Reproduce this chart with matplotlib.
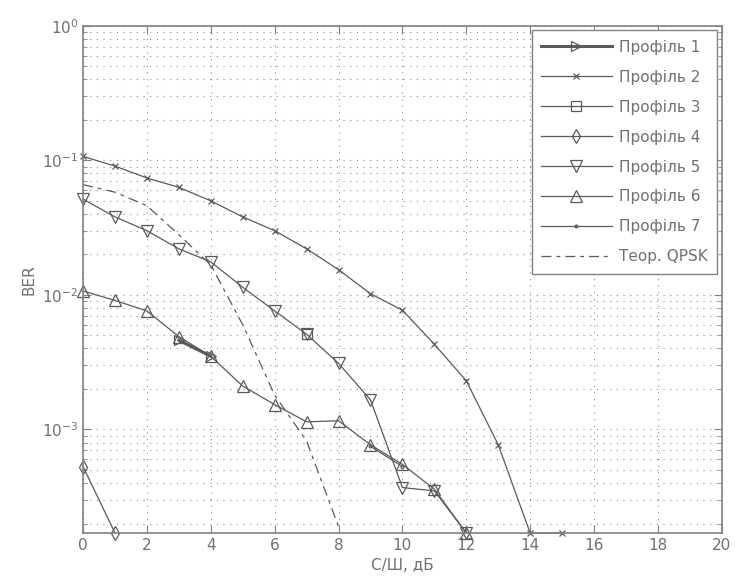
import numpy as np
import matplotlib
matplotlib.use('Agg')
import matplotlib.pyplot as plt
from matplotlib.ticker import LogLocator, NullFormatter

plt.rcParams['font.family'] = ['DejaVu Sans']

# BER floor of the simulation (points drawn on the bottom axis)
FLOOR = 1.7e-4

# Values
snr_p1 = [3, 4]
ber_p1 = [0.0046, 0.0035]

snr_p2 = list(range(0, 16))
ber_p2 = [0.107, 0.0906, 0.074, 0.063, 0.050, 0.038, 0.030, 0.022,
          0.0154, 0.0102, 0.0077, 0.0043, 0.0023, 7.7e-4, FLOOR, FLOOR]

snr_p3 = [7]
ber_p3 = [0.0051]

snr_p4 = [0, 1]
ber_p4 = [5.3e-4, FLOOR]

snr_p5 = list(range(0, 13))
ber_p5 = [0.0515, 0.038, 0.030, 0.022, 0.0176, 0.0114, 0.0076, 0.0051,
          0.0031, 0.00166, 3.7e-4, 3.5e-4, FLOOR]

snr_p6 = list(range(0, 13))
ber_p6 = [0.0107, 0.0091, 0.0076, 0.0049, 0.0035, 0.0021, 0.00153, 0.00114,
          0.00116, 7.7e-4, 5.5e-4, 3.6e-4, FLOOR]

snr_p7 = [9, 10]
ber_p7 = [7.5e-4, 5.3e-4]

snr_qpsk = list(range(0, 9))
ber_qpsk = [0.066, 0.058, 0.046, 0.028, 0.0167, 0.006, 0.0018, 8.2e-4, 1.9e-4]

labels = ['Профіль 1', 'Профіль 2', 'Профіль 3', 'Профіль 4',
          'Профіль 5', 'Профіль 6', 'Профіль 7', 'Теор. QPSK']
xticks = list(range(0, 21, 2))

line_c = '#5a5a5a'
text_c = '#707070'
axis_c = '#808080'

fig = plt.figure(figsize=(7.35, 5.86), dpi=100)
ax = fig.add_axes([0.113, 0.0904, 0.869, 0.8656])

common = dict(color=line_c, markerfacecolor='none', markeredgecolor=line_c,
              markeredgewidth=0.9, clip_on=False)
ax.plot(snr_p1, ber_p1, '-', marker='>', lw=2.2, ms=7, label=labels[0], **common)
ax.plot(snr_p2, ber_p2, '-', marker='x', lw=0.9, ms=5, label=labels[1], **common)
ax.plot(snr_p3, ber_p3, '-', marker='s', lw=0.9, ms=7, label=labels[2], **common)
ax.plot(snr_p4, ber_p4, '-', marker='d', lw=0.9, ms=7, label=labels[3], **common)
ax.plot(snr_p5, ber_p5, '-', marker='v', lw=0.9, ms=8, label=labels[4], **common)
ax.plot(snr_p6, ber_p6, '-', marker='^', lw=0.9, ms=8, label=labels[5], **common)
ax.plot(snr_p7, ber_p7, '-', marker='.', lw=0.9, ms=4, label=labels[6], **common)
ax.plot(snr_qpsk, ber_qpsk, '-', lw=0.9, color=line_c, dashes=(8, 4, 3, 4),
        label=labels[7], clip_on=False)

ax.set_yscale('log')
ax.set_xlim(0, 20)
ax.set_ylim(FLOOR, 1)
ax.set_xticks(xticks)
ax.yaxis.set_major_locator(LogLocator(base=10, numticks=10))
ax.yaxis.set_minor_locator(LogLocator(base=10, subs=np.arange(2, 10), numticks=20))
ax.yaxis.set_minor_formatter(NullFormatter())

ax.grid(True, which='major', axis='both', linestyle=(0, (1, 5)), color='#8c8c8c', lw=0.8)
ax.grid(True, which='minor', axis='y', linestyle=(0, (1, 5)), color='#8c8c8c', lw=0.8)

ax.tick_params(which='both', direction='in', top=True, right=True,
               colors=axis_c, labelcolor=text_c, labelsize=11)
ax.tick_params(which='major', length=6)
ax.tick_params(which='minor', length=3)
for s in ax.spines.values():
    s.set_color(axis_c)
    s.set_linewidth(1.2)

ax.set_xlabel('С/Ш, дБ', color=text_c, fontsize=11, labelpad=4)
ax.set_ylabel('BER', color=text_c, fontsize=11, labelpad=4)

leg = ax.legend(loc='upper right', fontsize=11, frameon=True, fancybox=False,
                handlelength=4.6, labelspacing=0.98, borderpad=0.6,
                handletextpad=0.5, borderaxespad=0.3)
leg.get_frame().set_edgecolor(axis_c)
leg.get_frame().set_linewidth(1.0)
leg.get_frame().set_alpha(1)
for t in leg.get_texts():
    t.set_color(text_c)

fig.savefig('out.png', dpi=100)
